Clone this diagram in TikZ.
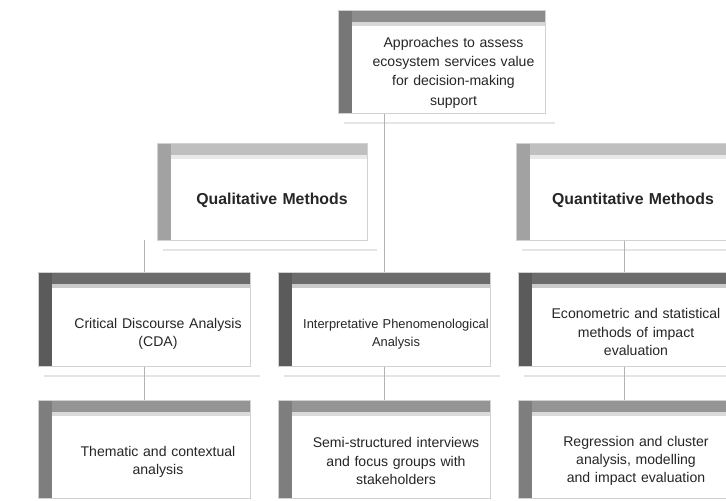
\documentclass[tikz,border=0pt]{standalone}
\usepackage{fontspec}
\setmainfont{Liberation Sans}
\usetikzlibrary{backgrounds}
\colorlet{barc}{black!45}
\tikzset{
  barcol/.code={\colorlet{barc}{#1}},
  card/.style={draw=black!18, line width=0.6pt, fill=white,
    minimum width=6.36cm, minimum height=#1, inner sep=0pt,
    path picture={
      \fill[barc!35!white] ([xshift=12pt,yshift=-10pt]path picture bounding box.north west)
        rectangle ([yshift=-14pt]path picture bounding box.north east);
      \fill[barc] (path picture bounding box.north west)
        rectangle ([yshift=-10pt]path picture bounding box.north east);
      \fill[barc!85!black] (path picture bounding box.north west)
        rectangle ([xshift=12pt]path picture bounding box.south west);
    }},
  cardtext/.style={text width=5.8cm, align=center, inner sep=0pt,
    text=black!85, font=\fontsize{12}{15.5}\selectfont},
  headtext/.style={cardtext, font=\fontsize{13.5}{16}\selectfont\bfseries},
  shade/.style={draw=black!10, line width=1.6pt},
  link/.style={draw=black!30, line width=0.6pt},
}
\begin{document}
\begin{tikzpicture}[x=0.03cm,y=-0.03cm]
\useasboundingbox (0,0) rectangle (726,500);

% cards
\node[card=3.09cm, minimum width=6.21cm, barcol=black!45] (root) at (441.5,61.5) {};
\node[card=2.91cm, minimum width=6.3cm, barcol=black!25] (qual) at (262,191.5) {};
\node[card=2.91cm, minimum width=6.3cm, barcol=black!25] (quant) at (621,191.5) {};
\node[card=2.82cm, barcol=black!58] (cda) at (144,319) {};
\node[card=2.82cm, barcol=black!58] (ipa) at (384,319) {};
\node[card=2.82cm, barcol=black!58] (eco) at (624,319) {};
\node[card=2.94cm, barcol=black!42] (them) at (144,449) {};
\node[card=2.94cm, barcol=black!42] (semi) at (384,449) {};
\node[card=2.94cm, barcol=black!42] (reg) at (624,449) {};

% card texts, set in the white part of each card
\node[cardtext, font=\fontsize{12}{16.5}\selectfont] (root-t) at ([shift={(12,11)}]root.center)
  {Approaches to assess\\ ecosystem services value\\ for decision-making\\ support};
\node[headtext] (qual-t) at ([shift={(10,9)}]qual.center) {Qualitative Methods};
\node[headtext] (quant-t) at ([shift={(12,9)}]quant.center) {Quantitative Methods};
\node[cardtext] (cda-t) at ([shift={(14,15)}]cda.center)
  {Critical Discourse Analysis\\ (CDA)};
\node[cardtext, font=\fontsize{11}{15.5}\selectfont] (ipa-t) at ([shift={(12,15)}]ipa.center)
  {\mbox{Interpretative Phenomenological}\\ Analysis};
\node[cardtext] (eco-t) at ([shift={(12,13)}]eco.center)
  {Econometric and statistical\\ methods of impact\\ evaluation};
\node[cardtext] (them-t) at ([shift={(14,13)}]them.center)
  {Thematic and contextual\\ analysis};
\node[cardtext] (semi-t) at ([shift={(12,12)}]semi.center)
  {Semi-structured interviews\\ and focus groups with\\ stakeholders};
\node[cardtext] (reg-t) at ([shift={(12,12)}]reg.center)
  {Regression and cluster\\ analysis, modelling\\ and impact evaluation};

% connectors and soft shadows behind the cards
\begin{scope}[on background layer]
  \foreach \c in {root,qual,quant,cda,ipa,eco}
    \path[shade] ([shift={(6,10)}]\c.south west) -- ([shift={(10,10)}]\c.south east);
  \path[link] (root.south -| ipa.north) -- (ipa.north);
  \path[link] (qual.south -| cda.north) -- (cda.north);
  \path[link] (quant.south -| eco.north) -- (eco.north);
  \path[link] (cda.south) -- (them.north);
  \path[link] (ipa.south) -- (semi.north);
  \path[link] (eco.south) -- (reg.north);
\end{scope}
\end{tikzpicture}
\end{document}
